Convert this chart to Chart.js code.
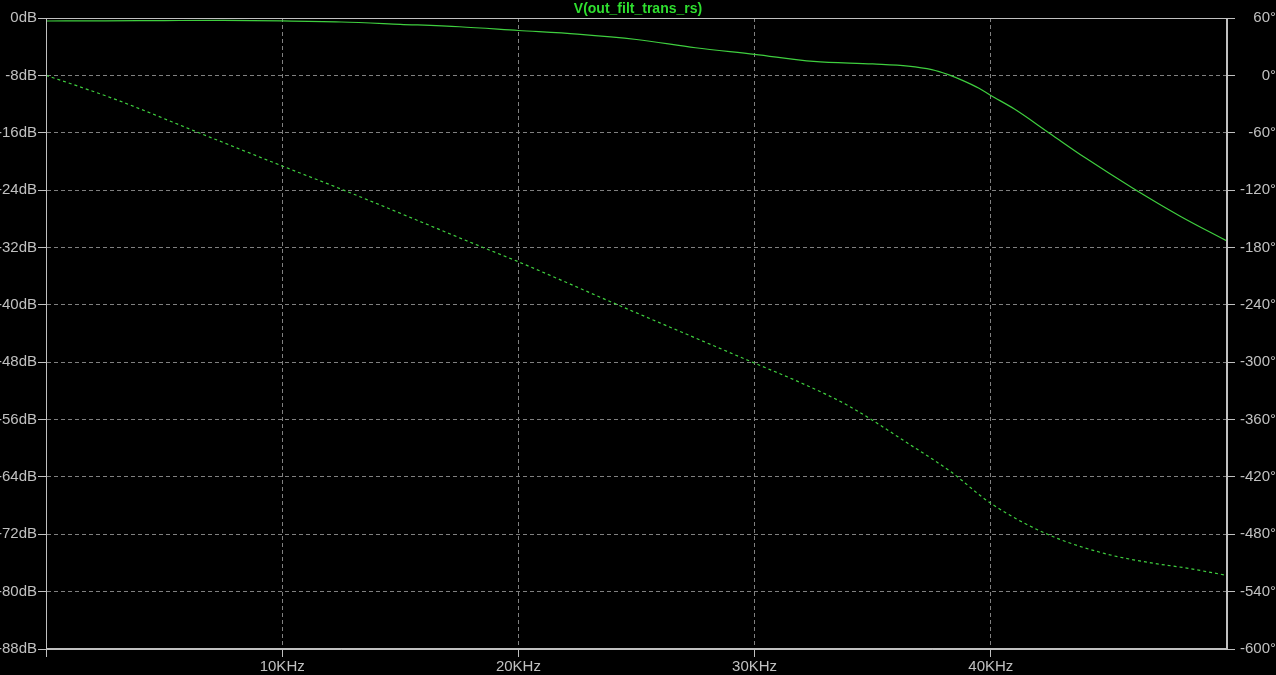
<!DOCTYPE html>
<html>
<head>
<meta charset="utf-8">
<script src="https://cdn.jsdelivr.net/npm/chart.js@4/dist/chart.umd.min.js"></script>
<style>
  body { margin: 0; background: #000; }
  #wrap { width: 1276px; height: 675px; }
</style>
</head>
<body>
<div id="wrap"><canvas id="bode"></canvas></div>
<script>
// frequency points (Hz)
const magFreq = [0, 2500, 5000, 7500, 10000, 12500, 15000, 17500, 20000, 22500, 25000, 27500, 30000, 32500, 35000, 36500, 37500, 38200, 38800, 39500, 40000, 41000, 42500, 44000, 46000, 48000, 50000];
const magDb = [-0.42, -0.4, -0.36, -0.33, -0.4, -0.56, -0.88, -1.22, -1.74, -2.25, -3.0, -4.15, -5.06, -6.05, -6.4, -6.7, -7.2, -7.9, -8.7, -9.8, -10.8, -12.7, -16.1, -19.5, -23.7, -27.6, -31.1];

const phaseFreq = [0, 1440, 3140, 6530, 10000, 12600, 18500, 20000, 24300, 30000, 32000, 34000, 36500, 38300, 40000, 42400, 44800, 46800, 48200, 50000];
const phaseDeg = [0, -12, -27, -60.6, -94.8, -120, -180, -195, -241, -301, -322, -346, -385, -414.5, -447.6, -480, -500, -510, -515, -523];

const xTicks = [0, 10000, 20000, 30000, 40000];
const dbTicks = [0, -8, -16, -24, -32, -40, -48, -56, -64, -72, -80, -88];
const degTicks = [60, 0, -60, -120, -180, -240, -300, -360, -420, -480, -540, -600];

const axisGray = '#c0c0c0';
const gridGray = '#808080';
const trace = '#3fcf3f';
const labelFont = { family: "'Liberation Sans Narrow', 'Liberation Sans', sans-serif", size: 15 };

const frame = {
  id: 'frame',
  afterDraw(chart) {
    const a = chart.chartArea, ctx = chart.ctx;
    ctx.save();
    ctx.strokeStyle = axisGray;
    ctx.lineWidth = 1;
    ctx.strokeRect(Math.round(a.left) + 0.5, Math.round(a.top) + 0.5, Math.round(a.right - a.left) - 1, Math.round(a.bottom - a.top) - 1);
    ctx.restore();
  }
};

new Chart(document.getElementById('bode'), {
  type: 'line',
  data: {
    datasets: [{
      label: 'magnitude',
      data: magFreq.map((f, i) => ({ x: f, y: magDb[i] })),
      yAxisID: 'y',
      borderColor: trace,
      borderWidth: 1.2,
      pointRadius: 0,
      cubicInterpolationMode: 'monotone'
    }, {
      label: 'phase',
      data: phaseFreq.map((f, i) => ({ x: f, y: phaseDeg[i] })),
      yAxisID: 'y1',
      borderColor: trace,
      borderWidth: 1.2,
      borderDash: [3, 3],
      pointRadius: 0,
      cubicInterpolationMode: 'monotone'
    }]
  },
  options: {
    responsive: true,
    maintainAspectRatio: false,
    animation: false,
    layout: { padding: 0 },
    plugins: {
      legend: { display: false },
      tooltip: { enabled: false },
      title: {
        display: true,
        text: 'V(out_filt_trans_rs)',
        color: '#2fdf2f',
        font: { family: "'Liberation Sans Narrow', 'Liberation Sans', sans-serif", size: 14, lineHeight: 1 },
        padding: { top: 2, bottom: 2 }
      }
    },
    scales: {
      x: {
        type: 'linear',
        min: 0,
        max: 50000,
        afterBuildTicks: s => { s.ticks = xTicks.map(v => ({ value: v })); },
        afterFit: s => { s.height = 26; },
        ticks: {
          color: axisGray,
          font: labelFont,
          padding: 1,
          maxRotation: 0,
          callback: v => v === 0 ? '' : (v / 1000) + 'KHz'
        },
        grid: { color: gridGray, tickColor: axisGray, tickLength: 8, tickBorderDash: [] },
        border: { color: axisGray, dash: [4, 3] }
      },
      y: {
        position: 'left',
        min: -88,
        max: 0,
        afterBuildTicks: s => { s.ticks = dbTicks.map(v => ({ value: v })); },
        afterFit: s => { s.width = 46; },
        ticks: { color: axisGray, font: labelFont, padding: 1, callback: v => v + 'dB' },
        grid: { color: gridGray, tickColor: axisGray, tickLength: 8, tickBorderDash: [] },
        border: { color: axisGray, dash: [4, 3] }
      },
      y1: {
        position: 'right',
        min: -600,
        max: 60,
        afterBuildTicks: s => { s.ticks = degTicks.map(v => ({ value: v })); },
        afterFit: s => { s.width = 49; },
        ticks: { color: axisGray, font: labelFont, padding: 0, crossAlign: 'far', callback: v => v + '°' },
        grid: { drawOnChartArea: false, tickColor: axisGray, tickLength: 8 },
        border: { color: axisGray }
      }
    }
  },
  plugins: [frame]
});
</script>
</body>
</html>
